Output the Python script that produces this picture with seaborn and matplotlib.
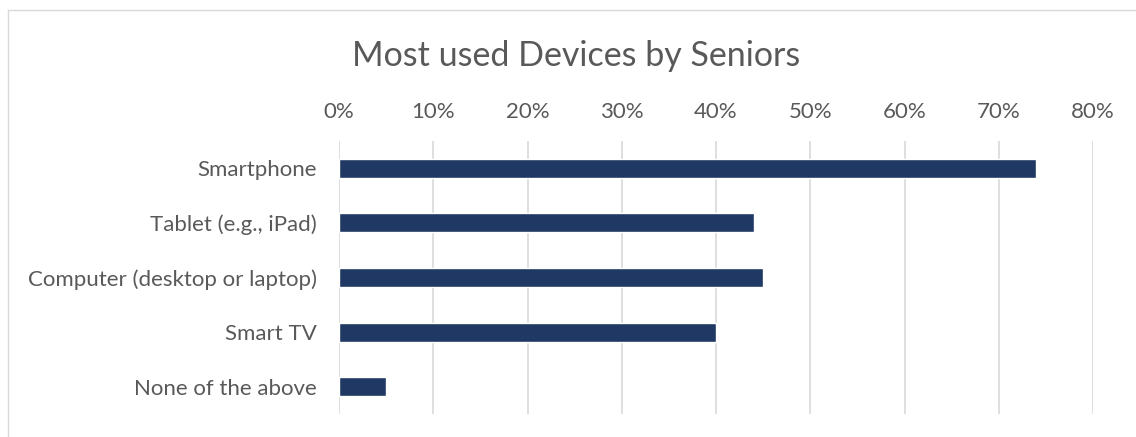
import matplotlib
matplotlib.use("Agg")
import matplotlib.pyplot as plt
import seaborn as sns
import pandas as pd
from matplotlib.ticker import PercentFormatter
from matplotlib.lines import Line2D

categories = ["Smartphone", "Tablet (e.g., iPad)", "Computer (desktop or laptop)", "Smart TV", "None of the above"]
values = [74, 44, 45, 40, 5]
x_ticks = [0, 10, 20, 30, 40, 50, 60, 70, 80]
title = "Most used Devices by Seniors"

df = pd.DataFrame({"device": categories, "share": values})

sns.set_theme(style="white")
plt.rcParams["font.family"] = ["Lato", "DejaVu Sans"]

W, H = 1136, 437
fig = plt.figure(figsize=(W / 100, H / 100), dpi=100)
ax = fig.add_axes([339 / W, 1 - 414 / H, (1093 - 339) / W, (414 - 141) / H])

sns.barplot(data=df, y="device", x="share", orient="h", color="#203864",
            width=0.35, saturation=1, ax=ax, zorder=3)

ax.set_xlim(0, 80)
ax.set_xticks(x_ticks)
ax.xaxis.set_major_formatter(PercentFormatter(decimals=0))
ax.xaxis.tick_top()
ax.tick_params(axis="x", length=0, pad=14, labelsize=16, labelcolor="#595959")
ax.tick_params(axis="y", length=0, pad=16, labelsize=16, labelcolor="#595959")
ax.grid(axis="x", color="#D9D9D9", linewidth=1.2, zorder=0)
ax.grid(axis="y", visible=False)
for s in ax.spines.values():
    s.set_visible(False)
ax.set_xlabel("")
ax.set_ylabel("")

fig.text(576 / W, 1 - 56 / H, title, ha="center", va="center", fontsize=24.5, color="#595959")

fig.add_artist(Line2D([8 / W, 1], [1 - 10 / H, 1 - 10 / H], transform=fig.transFigure, color="#D9D9D9", linewidth=1))
fig.add_artist(Line2D([8 / W, 8 / W], [1 - 10 / H, 0], transform=fig.transFigure, color="#D9D9D9", linewidth=1))

fig.savefig("out.png", dpi=100, facecolor="white")
